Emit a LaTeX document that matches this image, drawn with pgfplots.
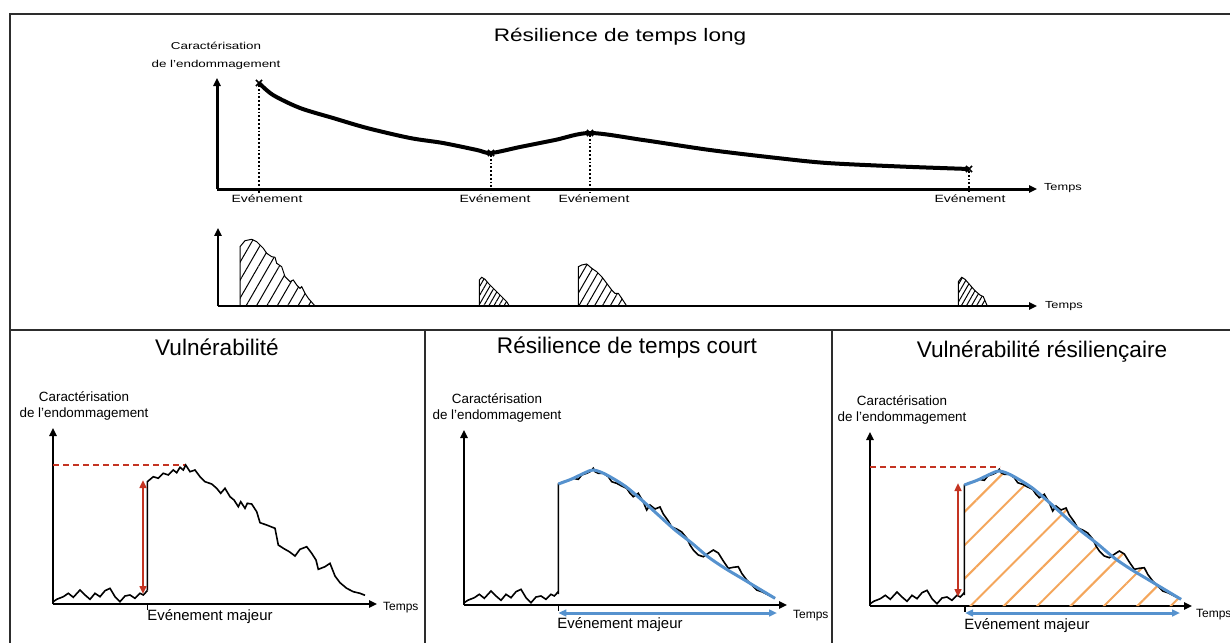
\documentclass[border=0pt]{standalone}
\usepackage{pgfplots}
\pgfplotsset{compat=1.18}
\usepackage{pgfplotstable}
\usetikzlibrary{arrows.meta,patterns.meta}
\usepackage{fontspec}
\setmainfont{Liberation Sans}

\definecolor{cadre}{RGB}{45,45,45}
\definecolor{rouge}{RGB}{196,52,34}
\definecolor{bleu}{RGB}{86,146,206}
\definecolor{orangeh}{RGB}{244,166,92}

\newcommand\ttl{\fontsize{11.3pt}{13pt}\selectfont}
\newcommand\lab{\fontsize{6.7pt}{8.3pt}\selectfont}
\newcommand\labh{\fontsize{6.7pt}{12pt}\selectfont}
\newcommand\evt{\fontsize{7.45pt}{9pt}\selectfont}
\newcommand\evth{\fontsize{7pt}{8pt}\selectfont}
\newcommand\tps{\fontsize{6pt}{7pt}\selectfont}

% long term curve (x from the origin, y above the axis, in px)
\pgfplotstableread{
x y
42 106
56 94
83 81
116 71
150 61
193 51
226 46
260 39
274 36
303 42
338 49
373 56
426 49
493 39
560 31
610 26
683 22.5
752 20
}\longterme

% damage peaks under the long term chart
\pgfplotstableread{
x y
22 0
22 59.3
27 65.3
33.7 66.7
38.7 64.3
45.3 57.7
48.7 52.7
53.7 49.3
57 48.7
58.7 42.7
63.7 39.3
67 29.3
72 24.3
75.3 26
78.7 21
82 17.7
83.7 19.3
87 12.7
90.3 7.7
97 0
}\picA
\pgfplotstableread{
x y
261.3 0
261.3 26
263.7 28.7
267 26.7
270.3 22.7
275.3 17.7
278.7 14.3
282 11
285.3 7.7
288.7 4.3
291.3 0
}\picB
\pgfplotstableread{
x y
360.3 0
360.3 39.3
363.7 41
368.7 42
373.7 37.7
378.7 34.3
383.7 29.3
388.7 22.7
393.7 16
397 12.7
400.3 12.7
403.7 7.7
408.7 0
}\picC
\pgfplotstableread{
x y
740.3 0
740.3 24.3
743.7 28.7
747 26.7
752 21
757 15.3
762 11
765.3 9.3
769.3 0
}\picD

% damage before the major event (lower panels)
\pgfplotstableread{
x y
0.3 2.3
3.7 4.7
10.3 7.3
15.3 10.7
20.3 6.7
27 14
32 9
37 4.7
42 10.7
47 7.3
52 13.3
57 15.7
62 7.3
67 2.3
72 8
77 9
82 5.7
87 10.7
90.3 9
94.3 13.3
}\avant
% damage after the event, panel "Vulnerabilite"
\pgfplotstableread{
x y
94.3 13.3
94.3 122.3
100.3 127.3
105.3 125.7
110.3 130.7
115.3 129
120.3 134
123.7 131.3
127 136.7
130.3 134
132.7 139
137 132.3
142 134
147 127.3
152 122.3
158.7 120
163.7 115.7
167.7 110.7
172 115.7
177 107.3
181 104
185.3 97.3
187.7 102.3
192 95.7
194.3 100.7
198.7 100
203.7 92.3
207 81.3
213.7 79
222 75.7
225.3 59
230.3 55.7
236.3 52.3
242 48
247 54.7
253.7 57.3
258.7 50.7
263 44
265.3 34.7
272 37.3
277 40.7
282 28
287 21.3
293.7 15.7
300.3 12.3
307 10.7
312 8.7
}\apres
% damage after the event, the two other panels
\pgfplotstableread{
x y
94.3 11
94.3 121
99.3 123.3
104.3 124.3
109.3 126.7
114.3 125.7
117.7 130
122.7 131.7
126 133.3
129.3 136.7
131 133.3
134.3 131.7
139.3 131.7
144.3 128.3
147.7 123.3
152.7 121.7
157.7 119
162.7 116.7
166 111.7
169.3 108.3
174.3 111.7
179.3 103
182.7 95
186 100
191 96
196 98
199.3 91
204.3 84
207.7 78
212.7 76
217.7 73
222.7 67
226 60
229.3 55
234.3 50
239.3 48.3
244.3 51.7
249.3 55
254.3 52
259.3 44
264.3 36.7
269.3 37.7
274.3 38.3
277.7 31.7
282.7 25
287.7 20
292.7 15
297.7 13.3
304.3 10
311 6.7
}\apresb
\pgfplotstableread{
x y
94.3 121
107.7 126
121 132.3
129.3 135
141 131
161 119
177.7 105
194.3 90
211 75
227.7 62
244.3 48
261 36.7
277.7 26.7
294.3 16.7
311 6.7
}\tendance

\pgfplotsset{
  sch/.style={
    x=0.5pt, y=0.5pt, anchor=south west,
    xmin=0, ymin=0,
    axis lines*=left,
    xtick=\empty, ytick=\empty,
    clip=false,
    axis line style={line width=1pt},
    x axis line style={-{Triangle[length=4pt,width=3.6pt]}},
    y axis line style={-{Triangle[length=4pt,width=3.6pt]}},
  },
  flecheD/.style={arrows={Triangle[length=4pt,width=3.4pt]-Triangle[length=4pt,width=3.4pt]}},
}

\begin{document}
\begin{tikzpicture}
\useasboundingbox (0,0) rectangle (615pt,-321pt);
\begin{scope}[x=0.5pt,y=-0.5pt]
  \draw[cadre,line width=1pt] (1232,14) -- (10,14) -- (10,644);
  \draw[cadre,line width=1pt] (10,329.5) -- (1232,329.5);
  \draw[cadre,line width=1pt] (424.5,329.5) -- (424.5,644);
  \draw[cadre,line width=1pt] (831.5,329.5) -- (831.5,644);
  \node[font=\ttl,yscale=0.8] at (620,37) {Résilience de temps long};
  \node[font=\labh,align=center,yscale=0.75] at (216,56) {Caractérisation\\de l'endommagement};
  \node[font=\ttl] at (217,347) {Vulnérabilité};
  \node[font=\ttl] at (627,348) {Résilience de temps court};
  \node[font=\ttl] at (1042,352) {Vulnérabilité résiliençaire};
  \node[font=\lab,align=center] at (84,406) {Caractérisation\\de l'endommagement};
  \node[font=\lab,align=center] at (497,408) {Caractérisation\\de l'endommagement};
  \node[font=\lab,align=center] at (902,410) {Caractérisation\\de l'endommagement};
\end{scope}

% long term resilience
\begin{axis}[sch, at={(108.5pt,-94.5pt)}, xmax=820, ymax=111,
  axis line style={line width=1.5pt}]
  \addplot[black, line width=2pt, smooth, tension=0.5] table {\longterme};
  \addplot[black, densely dotted, line width=0.9pt] coordinates {(42,104) (42,-4)};
  \addplot[black, densely dotted, line width=0.9pt] coordinates {(274,34) (274,-4)};
  \addplot[black, densely dotted, line width=0.9pt] coordinates {(373,54) (373,-4)};
  \addplot[black, densely dotted, line width=0.9pt] coordinates {(752,18) (752,-4)};
  \addplot[only marks, mark=x, mark size=2.2pt, line width=0.8pt, black]
    coordinates {(42,106) (274,36) (373,56) (752,20)};
  \node[font=\evth,yscale=0.75] at (axis cs:50,-10) {Evénement};
  \node[font=\evth,yscale=0.75] at (axis cs:278,-10) {Evénement};
  \node[font=\evth,yscale=0.75] at (axis cs:377,-10) {Evénement};
  \node[font=\evth,yscale=0.75] at (axis cs:753,-10) {Evénement};
  \node[font=\fontsize{6.4pt}{7pt}\selectfont,yscale=0.8,anchor=west] at (axis cs:820,1) {Temps};
\end{axis}

\begin{axis}[sch, at={(109pt,-153pt)}, xmax=819, ymax=78]
  \addplot[black, line width=0.5pt, pattern={Lines[angle=60,distance=4.5pt,line width=0.5pt]}] table {\picA};
  \addplot[black, line width=0.5pt, pattern={Lines[angle=60,distance=2.2pt,line width=0.5pt]}] table {\picB};
  \addplot[black, line width=0.5pt, pattern={Lines[angle=60,distance=3.4pt,line width=0.5pt]}] table {\picC};
  \addplot[black, line width=0.5pt, pattern={Lines[angle=60,distance=2.2pt,line width=0.5pt]}] table {\picD};
  \node[font=\fontsize{6.4pt}{7pt}\selectfont,yscale=0.8,anchor=west] at (axis cs:820,0) {Temps};
\end{axis}

% vulnerabilite
\begin{axis}[sch, at={(26.5pt,-302pt)}, xmax=324, ymax=176]
  \addplot[rouge, densely dashed, line width=0.6pt] coordinates {(0,139) (132,139)};
  \addplot[black, line width=0.8pt] table {\avant};
  \addplot[black, line width=0.8pt] table {\apres};
  \addplot[rouge, line width=1.2pt, flecheD] coordinates {(90,10) (90,124)};
  \addplot[black, line width=0.8pt] coordinates {(94.3,0) (94.3,-6)};
  \node[font=\evt] at (axis cs:157,-13) {Evénement majeur};
  \node[font=\tps,anchor=west] at (axis cs:323,-4) {Temps};
\end{axis}

% resilience de temps court
\begin{axis}[sch, at={(232pt,-302.5pt)}, xmax=323, ymax=175]
  \addplot[black, line width=0.8pt] table {\avant};
  \addplot[black, line width=0.8pt] table {\apresb};
  \addplot[bleu, line width=1.5pt, smooth] table {\tendance};
  \addplot[black, line width=0.8pt] coordinates {(94.3,0) (94.3,-6)};
  \addplot[bleu, line width=1.5pt, flecheD] coordinates {(94.3,-8) (313,-8)};
  \node[font=\evt] at (axis cs:156,-20) {Evénement majeur};
  \node[font=\tps,anchor=west] at (axis cs:322,-11) {Temps};
\end{axis}

% vulnerabilite resiliencaire
\begin{axis}[sch, at={(435pt,-303pt)}, xmax=322, ymax=174]
  \addplot[draw=none, pattern={Lines[angle=45,distance=11.8pt,line width=1pt]}, pattern color=orangeh]
    table {\apresb} \closedcycle;
  \addplot[rouge, densely dashed, line width=0.6pt] coordinates {(0,139) (130,139)};
  \addplot[black, line width=0.8pt] table {\avant};
  \addplot[black, line width=0.8pt] table {\apresb};
  \addplot[bleu, line width=1.5pt, smooth] table {\tendance};
  \addplot[rouge, line width=1.2pt, flecheD] coordinates {(88,9) (88,123)};
  \addplot[black, line width=0.8pt] coordinates {(95,0) (95,-6)};
  \addplot[bleu, line width=1.5pt, flecheD] coordinates {(95,-7) (310,-7)};
  \node[font=\evt] at (axis cs:157,-20) {Evénement majeur};
  \node[font=\tps,anchor=west] at (axis cs:319,-9) {Temps};
\end{axis}
\end{tikzpicture}
\end{document}
